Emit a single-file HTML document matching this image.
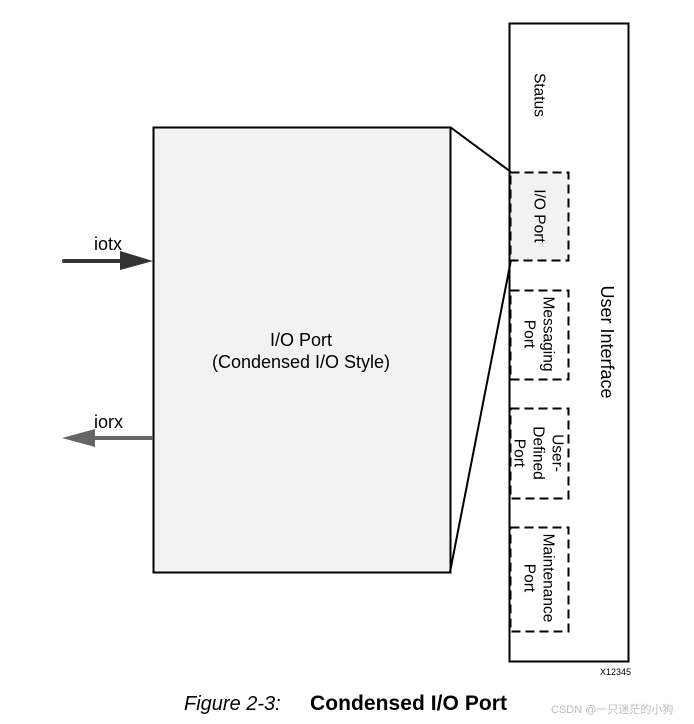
<!DOCTYPE html>
<html><head><style>
body{margin:0;background:#fff;width:694px;height:724px;overflow:hidden}
svg{display:block}
text{font-family:"Liberation Sans",sans-serif;fill:#000}
</style></head><body>
<svg width="694" height="724" viewBox="0 0 694 724">
<rect x="509.5" y="23.5" width="119" height="638" fill="#fff" stroke="#000" stroke-width="2"/>
<rect x="153.5" y="127.5" width="297" height="445" fill="#f2f2f2" stroke="#000" stroke-width="2"/>
<line x1="450" y1="127" x2="511" y2="172" stroke="#000" stroke-width="2"/>
<line x1="450" y1="572" x2="511" y2="260" stroke="#000" stroke-width="2"/>
<g fill="#fff" stroke="#000" stroke-width="2" stroke-dasharray="9,5">
<rect x="510.5" y="172.5" width="58" height="88" fill="#f2f2f2"/>
<rect x="510.5" y="290.5" width="58" height="89"/>
<rect x="510.5" y="408.5" width="58" height="90"/>
<rect x="510.5" y="527.5" width="58" height="104"/>
</g>
<g font-size="15.5" text-anchor="middle" dominant-baseline="central">
<text transform="translate(539,95) rotate(90)">Status</text>
<text transform="translate(539,216) rotate(90)">I/O Port</text>
<text transform="translate(548,334) rotate(90)">Messaging</text>
<text transform="translate(529,334) rotate(90)">Port</text>
<text transform="translate(557,453) rotate(90)">User-</text>
<text transform="translate(538,453) rotate(90)">Defined</text>
<text transform="translate(519,453) rotate(90)">Port</text>
<text transform="translate(548,578) rotate(90)">Maintenance</text>
<text transform="translate(529,578) rotate(90)">Port</text>
<text transform="translate(607,342) rotate(90)" font-size="18">User Interface</text>
</g>
<text x="301" y="346" font-size="18" text-anchor="middle">I/O Port</text>
<text x="301" y="368" font-size="18" text-anchor="middle">(Condensed I/O Style)</text>
<line x1="64" y1="261" x2="125" y2="261" stroke="#333" stroke-width="4" stroke-linecap="round"/>
<polygon points="120,251 153,261 120,270" fill="#333"/>
<text x="94" y="250" font-size="18">iotx</text>
<line x1="90" y1="438" x2="153" y2="438" stroke="#666" stroke-width="4"/>
<polygon points="62,438 95,429 95,447" fill="#666"/>
<text x="94" y="428" font-size="18">iorx</text>
<text x="600" y="675" font-size="9">X12345</text>
<text x="184" y="710" font-size="20" font-style="italic" fill="#222">Figure 2-3:</text>
<text x="310" y="710" font-size="21" font-weight="bold" textLength="197">Condensed I/O Port</text>
<text x="551" y="713" font-size="11" style="fill:#bbb" font-family="'Liberation Sans','Noto Sans CJK SC',sans-serif">CSDN @一只迷茫的小狗</text>
</svg>
</body></html>
